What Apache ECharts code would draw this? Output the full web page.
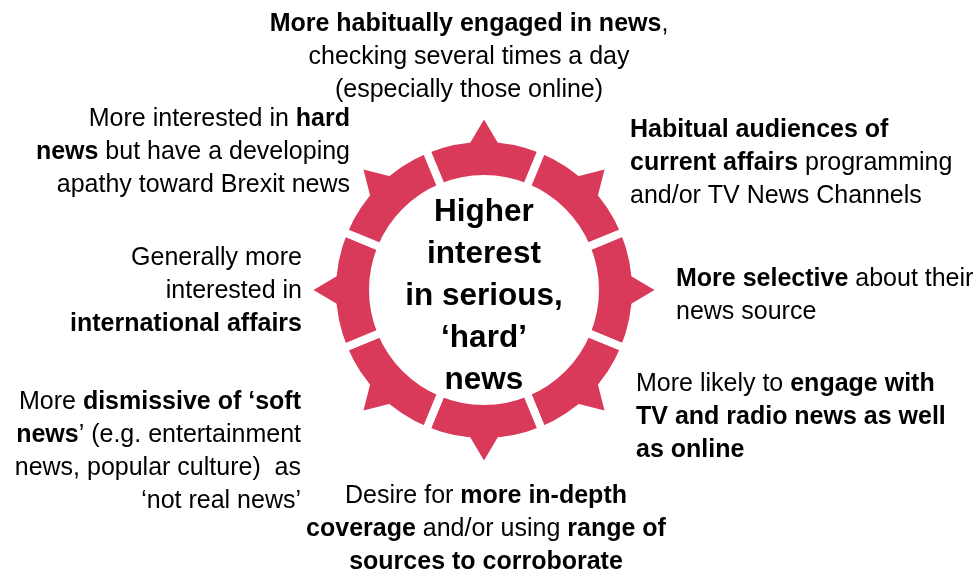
<!DOCTYPE html>
<html>
<head>
<meta charset="utf-8">
<script src="https://cdn.jsdelivr.net/npm/echarts@6/dist/echarts.min.js"></script>
<style>
html,body{margin:0;padding:0;background:#fff;}
#chart{width:977px;height:573px;}
</style>
</head>
<body>
<div id="chart"></div>
<script>
// ---- data ----
var segmentValues = [1, 1, 1, 1, 1, 1, 1, 1];
var arrowAngles = [90, 45, 0, 315, 270, 225, 180, 135];
var centerLines = ['Higher', 'interest', 'in serious,', '‘hard’', 'news'];
var labels = [
  '{b|More habitually engaged in news},\nchecking several times a day\n(especially those online)',
  '{b|Habitual audiences of}\n{b|current affairs} programming\nand/or TV News Channels',
  '{b|More selective} about their\nnews source',
  'More likely to {b|engage with}\n{b|TV and radio news as well}\n{b|as online}',
  'Desire for {b|more in-depth}\n{b|coverage} and/or using {b|range of}\n{b|sources to corroborate}',
  'More {b|dismissive of ‘soft}\n{b|news}’ (e.g. entertainment\nnews, popular culture)  as\n‘not real news’',
  'Generally more\ninterested in\n{b|international affairs}',
  'More interested in {b|hard}\n{b|news} but have a developing\napathy toward Brexit news'
];

// ---- layout ----
var CX = 484, CY = 290;
var labelLayout = [
  [469, 8, 'center'],
  [630, 114, 'left'],
  [676, 263, 'left'],
  [636, 368, 'left'],
  [486, 480, 'center'],
  [301, 386, 'right'],
  [302, 242, 'right'],
  [350, 103, 'right']
];
var RED = '#DA3A5A';
var FONT = 'Arial, "Liberation Sans", sans-serif';

var chart = echarts.init(document.getElementById('chart'), null, {renderer: 'canvas'});

var graphics = labels.map(function (t, i) {
  var L = labelLayout[i];
  return {
    type: 'text', x: L[0], y: L[1], silent: true,
    style: {
      text: t, align: L[2], verticalAlign: 'top',
      fontSize: 25, fontFamily: FONT, lineHeight: 33, fill: '#000',
      rich: { b: { fontWeight: 'bold', fontSize: 25, fontFamily: FONT, lineHeight: 33, fill: '#000' } }
    }
  };
});
graphics.push({
  type: 'text', x: CX, y: 191, silent: true,
  style: {
    text: centerLines.join('\n'), align: 'center', verticalAlign: 'top',
    fontSize: 31.5, fontWeight: 'bold', fontFamily: FONT, lineHeight: 42, fill: '#000'
  }
});

chart.setOption({
  animation: false,
  polar: { center: [CX, CY], radius: 200 },
  radiusAxis: { type: 'value', min: 0, max: 200, show: false },
  angleAxis: { type: 'value', min: 0, max: 360, startAngle: 0, clockwise: false, show: false },
  series: [
    {
      type: 'pie', center: [CX, CY], radius: [111, 152], startAngle: 112.5, silent: true,
      label: { show: false }, labelLine: { show: false },
      itemStyle: { color: RED, borderColor: '#fff', borderWidth: 8 },
      data: segmentValues.map(function (v) { return { value: v }; }),
      z: 2
    },
    {
      type: 'scatter', coordinateSystem: 'polar', silent: true, z: 3,
      symbol: 'triangle', symbolSize: [32, 27],
      itemStyle: { color: RED, opacity: 1 },
      data: arrowAngles.map(function (a) {
        return { value: [157, a], symbolRotate: a - 90 };
      })
    }
  ],
  graphic: graphics
});
</script>
</body>
</html>
